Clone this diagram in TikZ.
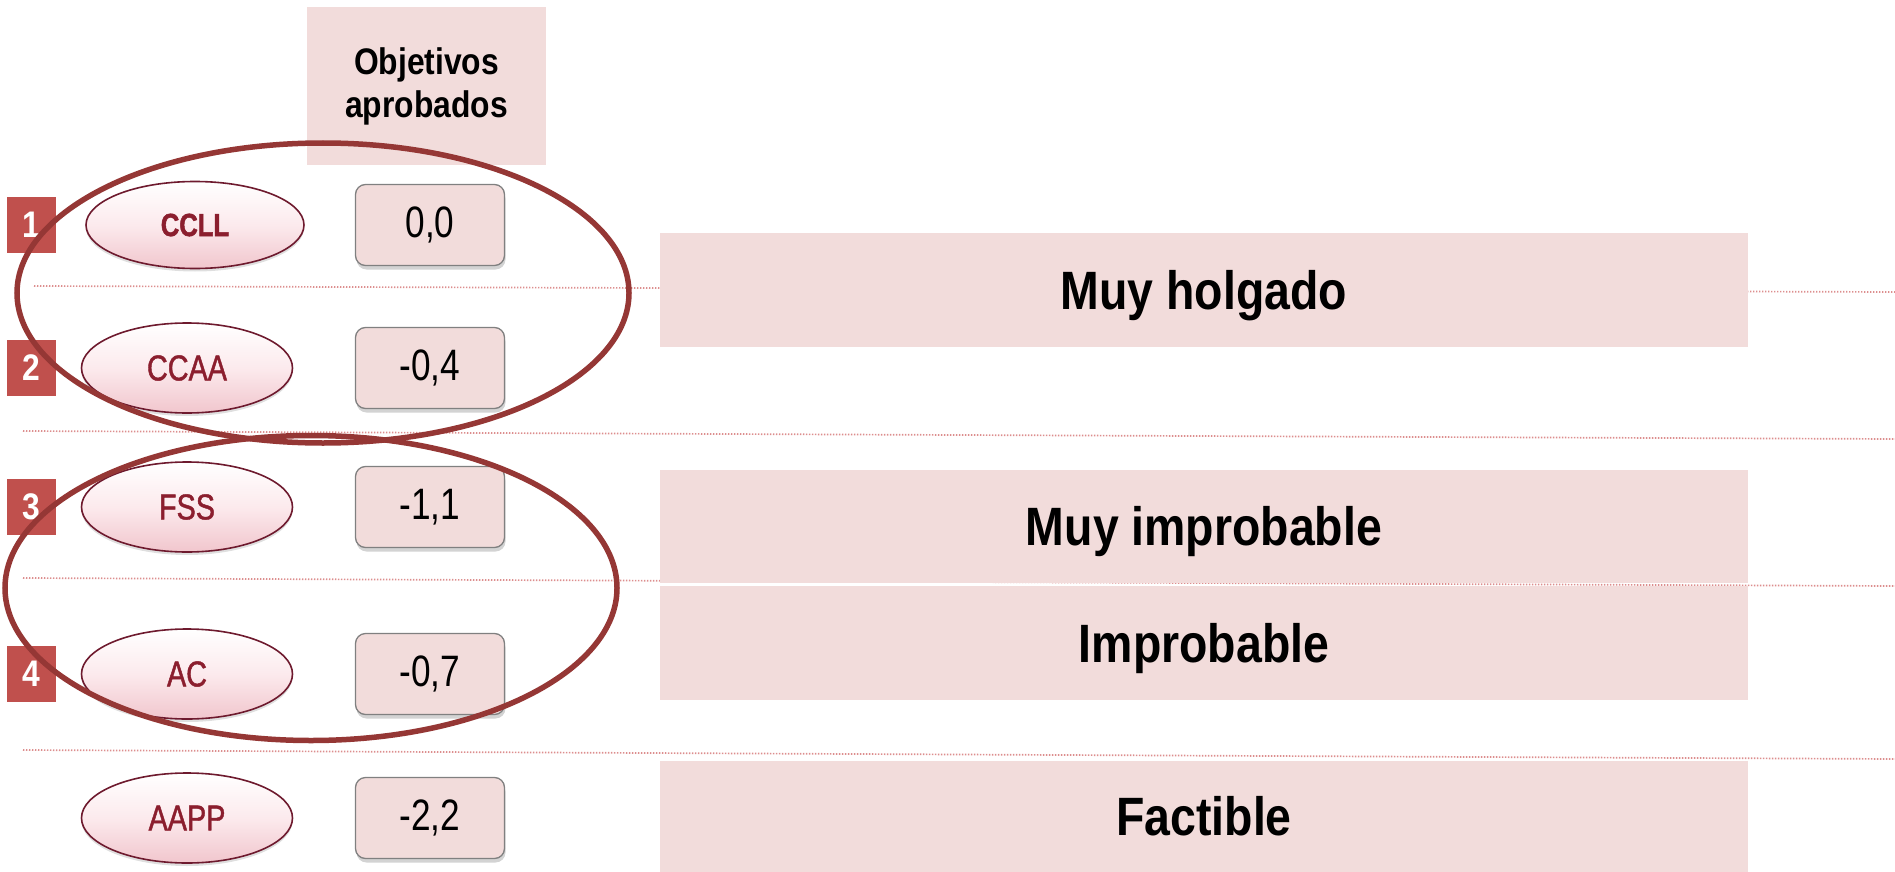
\documentclass[tikz,border=0pt]{standalone}
\usepackage{fontspec}
\setmainfont{Liberation Sans}[FakeStretch=0.86]
\newfontfamily\narrowfont{Liberation Sans}[FakeStretch=0.8]
\newfontfamily\pillfont{Liberation Sans}[FakeStretch=0.8, FakeBold=1.2]
\newfontfamily\pillboldfont{Liberation Sans Bold}[FakeStretch=0.8, FakeBold=1.5]
\usetikzlibrary{shapes.geometric,shadows}
\definecolor{pinkbg}{HTML}{F2DCDB}
\definecolor{bigred}{HTML}{953735}
\definecolor{numred}{HTML}{C0504D}
\definecolor{elltext}{HTML}{8B1E2E}
\definecolor{ellborder}{HTML}{6E1A2E}
\definecolor{ellpink}{HTML}{F1C6CD}
\definecolor{ellmid}{HTML}{FCEAED}
\definecolor{dotcol}{HTML}{DC8E8E}
\begin{document}
\begin{tikzpicture}[x=1pt,y=-1pt,
  hdrbox/.style={fill=pinkbg, minimum width=239pt, minimum height=158pt, inner sep=0pt, align=center,
    font=\fontsize{37}{43}\selectfont\bfseries},
  rbox/.style={fill=pinkbg, minimum width=1088pt, inner sep=0pt, text height=38pt, text depth=0pt,
    font=\fontsize{54}{54}\selectfont\bfseries},
  valbox/.style={draw=black!50, fill=pinkbg, rounded corners=10pt, minimum width=149pt, minimum height=81pt,
    line width=1.3pt, inner sep=0pt, drop shadow={shadow xshift=1pt, shadow yshift=-4pt, opacity=0.35},
    font=\narrowfont\fontsize{44}{44}\selectfont},
  pill/.style={ellipse, draw=ellborder, line width=1.6pt, top color=white, bottom color=ellpink, middle color=ellmid,
    minimum width=211pt, minimum height=90pt, inner sep=0pt, text=elltext,
    drop shadow={shadow xshift=0pt, shadow yshift=-3pt, opacity=0.25},
    font=\pillfont\fontsize{36}{36}\selectfont},
  numbox/.style={fill=numred, minimum width=49pt, minimum height=56pt, inner sep=0pt, text=white,
    font=\fontsize{37}{37}\selectfont\bfseries},
  bigell/.style={ellipse, draw=bigred, line width=5.5pt, inner sep=0pt},
  dotline/.style={dotcol, line width=1.7pt, dash pattern=on 1.3pt off 1.7pt}
]
\useasboundingbox (0,0) rectangle (1895,872);

% header
\node[hdrbox] (hdr) at (426.5,86) {Objetivos\\aprobados};

% dotted guide lines
\coordinate (l1a) at (34,286);  \coordinate (l1b) at (1895,292);
\coordinate (l2a) at (23,431);  \coordinate (l2b) at (1895,439);
\coordinate (l3a) at (23,578);  \coordinate (l3b) at (1895,586);
\coordinate (l4a) at (23,750);  \coordinate (l4b) at (1895,759);
\draw[dotline] (l1a) -- (l1b);
\draw[dotline] (l2a) -- (l2b);
\draw[dotline] (l3a) -- (l3b);
\draw[dotline] (l4a) -- (l4b);

% right boxes
\node[rbox, minimum height=114pt] (r1) at (1204,290) {Muy holgado};
\node[rbox, minimum height=113pt] (r2) at (1204,526.5) {Muy improbable};
\node[rbox, minimum height=114pt] (r3) at (1204,643) {Improbable};
\node[rbox, minimum height=111pt] (r4) at (1204,816.5) {Factible};

% pills
\node[pill, minimum width=218pt, minimum height=87pt, font=\pillboldfont\fontsize{32}{32}\selectfont] (p1) at (195,225) {CCLL};
\node[pill] (p2) at (187,368) {CCAA};
\node[pill] (p3) at (187,507) {FSS};
\node[pill] (p4) at (187,674) {AC};
\node[pill] (p5) at (187,818) {AAPP};

% values
\node[valbox] (v1) at (430,225) {0,0};
\node[valbox] (v2) at (430,368) {-0,4};
\node[valbox] (v3) at (430,507) {-1,1};
\node[valbox] (v4) at (430,674) {-0,7};
\node[valbox] (v5) at (430,818) {-2,2};

% number boxes
\node[numbox] (n1) at (31.5,225) {1};
\node[numbox] (n2) at (31.5,368) {2};
\node[numbox] (n3) at (31.5,507) {3};
\node[numbox] (n4) at (31.5,674) {4};

% big grouping ellipses
\node[bigell, minimum width=612pt, minimum height=300pt] (g1) at (323,293) {};
\node[bigell, minimum width=612pt, minimum height=305pt] (g2) at (311,588) {};
\end{tikzpicture}
\end{document}
